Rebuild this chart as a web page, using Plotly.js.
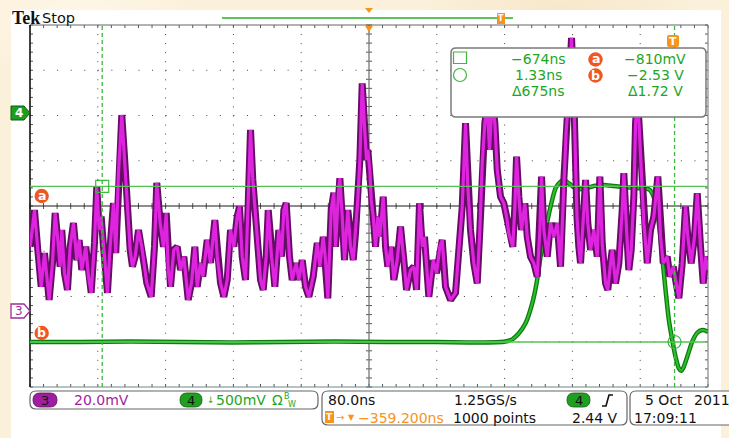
<!DOCTYPE html>
<html>
<head>
<meta charset="utf-8">
<script src="https://cdn.plot.ly/plotly-3.0.1.min.js"></script>
<style>
  html, body { margin: 0; padding: 0; }
  #scope {
    width: 729px; height: 438px;
    background:
      radial-gradient(ellipse 120px 60px at 80px 20px, rgba(255,250,238,0.8), rgba(255,250,238,0)),
      radial-gradient(ellipse 140px 50px at 560px 8px, rgba(246,228,196,0.7), rgba(246,228,196,0)),
      #fbf0da;
  }
</style>
</head>
<body>
<div id="scope"></div>
<script>
// ---- acquisition settings ----
const nsPerDiv = 80;
const centerTimeNs = -359.2;
const ch3mVPerDiv = 20;
const ch4VPerDiv = 0.5;
const ch3PositionDiv = -2.32;
const ch4PositionDiv = 2.055;

// ---- cursor readouts ----
const cursorTimesNs = [-674, 1.33];
const cursorLevelsV = [-0.81, -2.53];

// ---- channel 3 (20 mV/div) ----
const ch3TimeNs = [
  -759.0,-753.9,-750.0,-746.0,-742.1,-739.4,-736.6,-732.7,-729.5,-726.4,
  -723.6,-721.7,-718.5,-715.0,-711.8,-707.9,-704.0,-701.2,-698.1,-693.4,
  -690.2,-687.0,-683.1,-680.4,-677.6,-675.2,-672.5,-667.8,-664.6,-660.7,
  -658.0,-654.8,-650.9,-647.7,-644.5,-641.0,-638.3,-635.1,-631.2,-627.3,
  -624.1,-621.4,-616.2,-612.3,-609.6,-605.6,-601.7,-598.5,-596.1,-593.4,
  -589.5,-585.5,-581.6,-577.7,-572.5,-568.6,-564.7,-561.9,-558.0,-555.3,
  -550.1,-546.2,-541.1,-538.3,-534.4,-530.5,-526.5,-522.6,-518.7,-514.7,
  -512.0,-508.8,-504.9,-501.7,-499.0,-496.3,-493.9,-491.1,-487.2,-484.0,
  -480.5,-478.1,-474.2,-470.3,-465.6,-462.4,-459.7,-456.9,-453.0,-449.8,
  -445.1,-442.0,-438.0,-434.1,-430.2,-425.0,-420.3,-417.2,-413.2,-410.5,
  -407.8,-403.8,-400.7,-398.7,-394.8,-393.6,-390.8,-388.1,-384.2,-381.0,
  -377.8,-375.1,-372.4,-370.0,-367.2,-364.5,-362.1,-360.6,-358.2,-356.6,
  -354.2,-351.5,-348.8,-346.4,-342.4,-339.7,-337.0,-333.0,-329.9,-325.9,
  -322.0,-318.1,-314.9,-310.2,-306.3,-303.1,-299.6,-296.4,-293.7,-288.6,
  -283.4,-279.5,-275.6,-272.8,-268.9,-263.0,-257.1,-253.2,-249.2,-245.3,
  -242.6,-239.4,-235.5,-231.5,-228.4,-225.6,-222.5,-219.7,-217.0,-213.8,
  -210.7,-207.9,-204.0,-200.1,-196.9,-194.2,-189.5,-187.1,-185.1,-182.4,
  -179.2,-175.3,-172.5,-168.6,-164.7,-160.7,-157.6,-155.6,-152.9,-148.9,
  -145.0,-141.1,-137.1,-133.2,-129.3,-126.5,-124.1,-120.2,-117.5,-115.5,
  -113.8,-111.6,-109.6,-105.7,-103.7,-101.0,-97.8,-93.9,-89.9,-86.8,
  -84.0,-80.1,-77.4,-74.2,-72.2,-68.3,-64.4,-60.4,-58.5,-55.3,
  -52.6,-49.8,-46.7,-44.7,-43.0,-40.8,-38.0,-34.9,-30.9,-27.0,
  -23.1,-18.4,-15.2,-12.0,-7.3,-4.2,-0.2,3.7,6.4,10.4,
  14.3,17.0,21.0,24.9,28.1,32.0,35.2,37.9,40.8
];
const ch3mV = [
  28.4,44.6,27.0,10.7,25.6,15.2,4.9,21.2,43.3,31.4,
  19.6,35.8,16.8,9.3,28.4,38.9,22.5,31.4,18.1,28.4,
  15.2,8.0,30.1,54.9,35.8,41.7,28.4,8.0,28.4,47.7,
  25.6,61.0,86.6,68.2,46.1,27.0,19.6,24.0,35.8,28.4,
  19.6,12.4,6.3,28.4,56.6,38.9,28.4,43.3,18.1,10.7,
  27.0,28.4,18.1,24.0,4.9,12.4,28.4,10.7,21.2,15.2,
  31.4,21.2,40.2,24.0,12.4,6.3,13.7,35.8,28.4,41.7,
  46.1,24.0,13.7,47.7,80.0,57.9,44.6,32.8,13.7,9.3,
  24.0,44.6,24.0,10.7,35.8,24.0,44.6,47.7,24.0,13.7,
  21.2,13.7,22.5,10.7,6.3,15.2,30.1,19.6,32.8,22.5,
  5.6,44.6,52.2,28.4,54.9,58.7,41.7,22.5,44.6,28.4,
  22.5,34.3,49.1,66.7,100.6,81.5,66.7,71.2,62.3,49.1,
  41.7,28.4,41.7,32.8,50.5,28.4,19.6,28.4,13.7,22.5,
  37.3,22.5,9.3,18.1,19.6,9.3,47.6,28.4,32.8,6.3,
  22.5,16.7,28.4,31.4,10.7,4.9,8.0,27.0,46.1,83.0,
  54.9,35.8,21.1,12.2,35.8,65.3,83.1,91.1,71.2,93.3,
  83.1,62.3,50.5,47.6,41.7,34.3,28.4,46.1,68.2,50.5,
  35.8,47.6,32.8,24.0,21.1,15.2,35.8,59.4,35.8,24.0,
  38.8,32.8,38.8,19.6,57.9,80.0,91.8,120.7,94.7,56.4,
  41.7,28.4,21.1,44.6,57.9,38.8,27.0,35.8,24.0,59.4,
  29.9,12.2,9.3,21.1,27.0,12.2,21.1,44.6,60.9,35.8,
  18.1,27.0,50.5,83.0,91.1,84.4,62.3,38.8,21.1,35.8,
  41.7,59.4,32.8,21.1,24.0,15.2,19.6,10.7,5.7,21.1,
  46.1,32.8,21.1,32.8,52.0,28.4,12.2,24.0,18.1
];

// ---- channel 4 (500 mV/div) ----
const ch4TimeNs = [
  -759.2,-700,-640,-580,-520,-460,-400,-340,-280,-230,
  -200.1,-190.2,-182.4,-174.5,-166.6,-161.5,-156.8,-150.9,-145.0,-139.1,
  -133.2,-129.3,-123.4,-117.5,-111.6,-103.7,-93.9,-82.1,-70.3,-54.5,
  -38.8,-29.0,-25.0,-21.1,-17.2,-13.2,-9.3,-5.4,-1.4,2.5,
  6.4,9.2,12.3,16.3,22.2,28.1,34.0,40.8
];
const ch4V = [
  -2.53,-2.53,-2.525,-2.53,-2.535,-2.53,-2.525,-2.53,-2.53,-2.535,
  -2.527,-2.501,-2.434,-2.324,-2.103,-1.882,-1.588,-1.293,-1.035,-0.832,
  -0.759,-0.740,-0.777,-0.821,-0.843,-0.832,-0.807,-0.796,-0.807,-0.821,
  -0.832,-0.843,-0.887,-0.998,-1.219,-1.588,-1.956,-2.287,-2.508,-2.693,
  -2.821,-2.848,-2.803,-2.693,-2.527,-2.428,-2.398,-2.415
];

// ---- screen geometry (graticule in pixels) ----
const L = 30, R = 708, T = 25, B = 387;
const DIVX = (R - L) / 10, DIVY = (B - T) / 8;
const fx = x => (x - L) / (R - L);
const fy = y => (B - y) / (B - T);
const P = (x, y) => fx(x).toFixed(5) + ',' + fy(y).toFixed(5);

function poly(pts) {
  return pts.map((p, i) => (i ? 'L' : 'M') + P(p[0], p[1])).join(' ') + ' Z';
}
function roundRect(x0, y0, x1, y1, r) {
  return 'M' + P(x0 + r, y0) + ' L' + P(x1 - r, y0) + ' Q' + P(x1, y0) + ' ' + P(x1, y0 + r) +
    ' L' + P(x1, y1 - r) + ' Q' + P(x1, y1) + ' ' + P(x1 - r, y1) +
    ' L' + P(x0 + r, y1) + ' Q' + P(x0, y1) + ' ' + P(x0, y1 - r) +
    ' L' + P(x0, y0 + r) + ' Q' + P(x0, y0) + ' ' + P(x0 + r, y0) + ' Z';
}

const GREEN_TXT = '#1ea51e';
const ORANGE = '#f7941d';
const RED_ORANGE = '#f0561f';
const PURPLE = '#a01fa0';
const FONT = 'DejaVu Sans';

const shapes = [];
const pathShape = (path, fill, line, lw, layer) => shapes.push({
  type: 'path', xref: 'paper', yref: 'paper', path: path,
  fillcolor: fill || 'rgba(0,0,0,0)', line: { color: line || 'rgba(0,0,0,0)', width: lw || 0 },
  layer: layer || 'above'
});
const circ = (cx, cy, r, fill, line, lw) => shapes.push({
  type: 'circle', xref: 'paper', yref: 'paper',
  x0: fx(cx - r), x1: fx(cx + r), y0: fy(cy + r), y1: fy(cy - r),
  fillcolor: fill || 'rgba(0,0,0,0)', line: { color: line || 'rgba(0,0,0,0)', width: lw || 0 }
});

// white display panel
shapes.push({ type: 'rect', xref: 'paper', yref: 'paper', x0: fx(11), x1: fx(721), y0: fy(445), y1: fy(10),
  fillcolor: '#ffffff', line: { width: 0 }, layer: 'below' });

// dotted graticule
for (let i = 1; i < 10; i++) {
  if (i === 5) continue;
  const x = fx(L + i * DIVX);
  shapes.push({ type: 'line', xref: 'paper', yref: 'paper', x0: x, x1: x, y0: 1, y1: 0,
    line: { color: '#444', width: 1, dash: '1px,' + (DIVY / 5 - 1).toFixed(2) + 'px' }, layer: 'below' });
}
for (let j = 1; j < 8; j++) {
  if (j === 4) continue;
  const y = fy(T + j * DIVY);
  shapes.push({ type: 'line', xref: 'paper', yref: 'paper', x0: 0, x1: 1, y0: y, y1: y,
    line: { color: '#444', width: 1, dash: '1px,' + (DIVX / 5 - 1).toFixed(2) + 'px' }, layer: 'below' });
}
// minor ticks on border and centre lines
let ticks = '';
const cy0 = T + 4 * DIVY, cx0 = L + 5 * DIVX;
for (let k = 0; k <= 50; k++) {
  const x = L + k * DIVX / 5;
  ticks += ' M' + P(x, T) + ' L' + P(x, T + 3);
  ticks += ' M' + P(x, B) + ' L' + P(x, B - 3);
  ticks += ' M' + P(x, cy0 - 3) + ' L' + P(x, cy0 + 3);
}
for (let k = 0; k <= 40; k++) {
  const y = T + k * DIVY / 5;
  ticks += ' M' + P(L, y) + ' L' + P(L + 3, y);
  ticks += ' M' + P(R, y) + ' L' + P(R - 3, y);
  ticks += ' M' + P(cx0 - 3, y) + ' L' + P(cx0 + 3, y);
}
shapes.push({ type: 'path', xref: 'paper', yref: 'paper', path: ticks.trim(), line: { color: '#555', width: 1 }, layer: 'below' });
// centre lines and border
shapes.push({ type: 'line', xref: 'paper', yref: 'paper', x0: 0, x1: 1, y0: fy(cy0), y1: fy(cy0), line: { color: '#1a1a1a', width: 1.2 }, layer: 'below' });
shapes.push({ type: 'line', xref: 'paper', yref: 'paper', x0: fx(cx0), x1: fx(cx0), y0: 0, y1: 1, line: { color: '#777', width: 1.3 }, layer: 'below' });
shapes.push({ type: 'line', xref: 'paper', yref: 'paper', x0: 0, x1: 1, y0: 1, y1: 1, line: { color: '#666', width: 1.2 }, layer: 'below' });
shapes.push({ type: 'line', xref: 'paper', yref: 'paper', x0: 0, x1: 1, y0: 0, y1: 0, line: { color: '#6a8a8a', width: 1.2 }, layer: 'below' });
shapes.push({ type: 'line', xref: 'paper', yref: 'paper', x0: 1, x1: 1, y0: 0, y1: 1, line: { color: '#888', width: 1.2 }, layer: 'below' });
shapes.push({ type: 'line', xref: 'paper', yref: 'paper', x0: 0, x1: 0, y0: 0, y1: 1, line: { color: '#111', width: 1.6 }, layer: 'below' });

// cursors
cursorLevelsV.forEach(v => shapes.push({ type: 'line', xref: 'paper', yref: 'y', x0: 0, x1: 1, y0: v, y1: v,
  line: { color: '#55c455', width: 1.3 } }));
cursorTimesNs.forEach(t => shapes.push({ type: 'line', xref: 'x', yref: 'paper', x0: t, x1: t, y0: 0, y1: 1,
  line: { color: '#3db83d', width: 1.3, dash: '4px,3px' } }));
shapes.push({ type: 'rect', xref: 'x', yref: 'y', xsizemode: 'pixel', ysizemode: 'pixel',
  xanchor: cursorTimesNs[0], yanchor: cursorLevelsV[0], x0: -6.5, x1: 6.5, y0: -6, y1: 6,
  line: { color: '#3db83d', width: 1.2 } });
shapes.push({ type: 'circle', xref: 'x', yref: 'y', xsizemode: 'pixel', ysizemode: 'pixel',
  xanchor: cursorTimesNs[1], yanchor: cursorLevelsV[1], x0: -6.5, x1: 6.5, y0: -6.5, y1: 6.5,
  line: { color: '#3db83d', width: 1.2 } });

// cursor readout panel
pathShape(roundRect(451, 48, 706, 117, 5), '#ffffff', '#7a7a7a', 1.5);
shapes.push({ type: 'rect', xref: 'paper', yref: 'paper', x0: fx(453.5), x1: fx(466.5), y0: fy(63.5), y1: fy(52),
  line: { color: '#3db83d', width: 1.2 } });
circ(460, 75, 6.5, null, '#3db83d', 1.2);
circ(595.5, 59.5, 7.2, RED_ORANGE);
circ(595.5, 75.5, 7.2, RED_ORANGE);

// trigger marker and ground/reference markers
pathShape(roundRect(667, 35, 679, 47, 2), ORANGE);
pathShape(poly([[11, 106], [24, 106], [30, 113], [24, 120], [11, 120]]), '#1e9e1e', '#0b5a0b', 1);
pathShape(poly([[11, 304], [24, 304], [30, 311], [24, 318], [11, 318]]), '#ffffff', '#9b2f9b', 1.3);
circ(41.7, 196, 7.2, RED_ORANGE);
circ(41.7, 333, 7.2, RED_ORANGE);

// record bar at the top
shapes.push({ type: 'line', xref: 'paper', yref: 'paper', x0: fx(222), x1: fx(513), y0: fy(18), y1: fy(18),
  line: { color: '#5cc45c', width: 2 } });
pathShape(poly([[497, 13], [505, 13], [505, 24], [497, 24]]), ORANGE);
pathShape(poly([[365, 8], [373, 8], [369, 13]]), ORANGE);
pathShape(poly([[365, 26], [373, 26], [369, 32]]), ORANGE);

// status bar
pathShape(roundRect(30, 391, 318, 409, 6), '#ffffff', '#666', 1.2);
pathShape(roundRect(33, 393, 57, 407, 7), PURPLE, '#5a0a5a', 0.8);
pathShape(roundRect(180, 393, 202, 407, 7), '#1f9f1f', '#0b5a0b', 0.8);
pathShape(roundRect(322, 391, 627, 425, 6), '#ffffff', '#666', 1.2);
pathShape(roundRect(567, 393, 590, 407, 7), '#1f9f1f', '#0b5a0b', 0.8);
shapes.push({ type: 'path', xref: 'paper', yref: 'paper',
  path: 'M' + P(602, 406) + ' L' + P(606, 406) + ' L' + P(609, 395) + ' L' + P(613, 395),
  line: { color: '#111', width: 1.6 } });
pathShape(poly([[325, 411], [334, 411], [334, 423], [325, 423]]), ORANGE);
pathShape(roundRect(630, 391, 740, 425, 6), '#ffffff', '#666', 1.2);

// ---- text ----
const annotations = [];
const txt = (text, x, y, o) => {
  o = o || {};
  annotations.push({
    xref: 'paper', yref: 'paper', x: fx(x), y: fy(y), text: text, showarrow: false,
    xanchor: o.anchor || 'left', yanchor: 'middle', borderpad: 0,
    font: { family: o.family || FONT, size: o.size || 14, color: o.color || '#111' }
  });
};

txt('<b>Tek</b>', 11, 18, { family: 'Liberation Serif', size: 18 });
txt('Stop', 41, 18, { size: 14.5 });
txt('<b>T</b>', 501, 18.5, { anchor: 'center', size: 8, color: '#ffffff' });
txt('<b>T</b>', 673, 41, { anchor: 'center', size: 11, color: '#ffffff' });

txt('<b>4</b>', 18.5, 113, { anchor: 'center', size: 12, color: '#ffffff' });
txt('3', 18.5, 311, { anchor: 'center', size: 12, color: '#9b2f9b' });
txt('<b>a</b>', 41.7, 195.5, { anchor: 'center', size: 12.5, color: '#ffffff' });
txt('<b>b</b>', 41.7, 332.5, { anchor: 'center', size: 12.5, color: '#ffffff' });

txt('\u2212674ns', 538, 58.5, { anchor: 'center', color: GREEN_TXT });
txt('1.33ns', 538, 75, { anchor: 'center', color: GREEN_TXT });
txt('\u0394675ns', 538, 91.5, { anchor: 'center', color: GREEN_TXT });
txt('\u2212810mV', 655, 58.5, { anchor: 'center', color: GREEN_TXT });
txt('\u22122.53 V', 655, 75, { anchor: 'center', color: GREEN_TXT });
txt('\u03941.72 V', 655, 91.5, { anchor: 'center', color: GREEN_TXT });
txt('<b>a</b>', 595.5, 59, { anchor: 'center', size: 12.5, color: '#ffffff' });
txt('<b>b</b>', 595.5, 75, { anchor: 'center', size: 12.5, color: '#ffffff' });

txt('3', 45, 400, { anchor: 'center', size: 13 });
txt('20.0mV', 73, 400, { color: PURPLE });
txt('4', 191, 400, { anchor: 'center', size: 13 });
txt('\u2193', 205.5, 400, { size: 9, color: GREEN_TXT });
txt('500mV', 215, 400, { color: GREEN_TXT });
txt('\u03a9', 271, 400, { color: GREEN_TXT });
txt('B', 283, 396, { size: 8, color: GREEN_TXT });
txt('W', 287, 404, { size: 8, color: GREEN_TXT });

txt('80.0ns', 327, 400);
txt('1.25GS/s', 453, 400);
txt('4', 578.5, 400, { anchor: 'center', size: 13 });
txt('<b>T</b>', 329.5, 417, { anchor: 'center', size: 9, color: '#ffffff' });
txt('\u2192', 335, 417.5, { size: 10, color: ORANGE });
txt('\u25bc', 347, 417.5, { size: 8, color: ORANGE });
txt('\u2212359.200ns', 357, 418, { color: ORANGE });
txt('1000 points', 452, 418);
txt('2.44 V', 619, 418, { anchor: 'right' });

txt('5 Oct', 644, 400);
txt('2011', 693, 400);
txt('17:09:11', 633, 418);

// ---- traces ----
const traces = [
  { x: ch3TimeNs, y: ch3mV, yaxis: 'y2', mode: 'lines', line: { color: '#650d65', width: 7 }, hoverinfo: 'skip' },
  { x: ch3TimeNs, y: ch3mV, yaxis: 'y2', mode: 'lines', line: { color: '#de24de', width: 3.2 }, hoverinfo: 'skip' },
  { x: ch4TimeNs, y: ch4V, yaxis: 'y', mode: 'lines', line: { color: '#0f7a0f', width: 4.5, shape: 'spline', smoothing: 0.6 }, hoverinfo: 'skip' },
  { x: ch4TimeNs, y: ch4V, yaxis: 'y', mode: 'lines', line: { color: '#2cc02c', width: 2, shape: 'spline', smoothing: 0.6 }, hoverinfo: 'skip' }
];

const layout = {
  width: 729, height: 438,
  margin: { l: L, r: 729 - R, t: T, b: 438 - B, pad: 0 },
  paper_bgcolor: 'rgba(0,0,0,0)', plot_bgcolor: 'rgba(0,0,0,0)',
  showlegend: false, hovermode: false,
  xaxis: { range: [centerTimeNs - 5 * nsPerDiv, centerTimeNs + 5 * nsPerDiv], visible: false, fixedrange: true },
  yaxis: { range: [(-4 - ch4PositionDiv) * ch4VPerDiv, (4 - ch4PositionDiv) * ch4VPerDiv], visible: false, fixedrange: true },
  yaxis2: { range: [(-4 - ch3PositionDiv) * ch3mVPerDiv, (4 - ch3PositionDiv) * ch3mVPerDiv], overlaying: 'y', visible: false, fixedrange: true },
  shapes: shapes,
  annotations: annotations
};

Plotly.newPlot('scope', traces, layout, { staticPlot: true, displayModeBar: false });
</script>
</body>
</html>
